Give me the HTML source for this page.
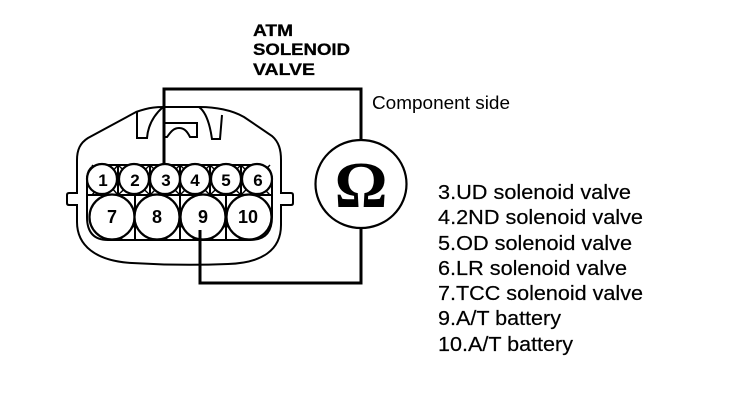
<!DOCTYPE html>
<html><head><meta charset="utf-8"><style>
html,body{margin:0;padding:0;background:#fff;width:736px;height:402px;overflow:hidden}
svg{display:block}
text{font-family:"Liberation Sans",sans-serif;fill:#000}
</style></head><body>
<svg width="736" height="402" viewBox="0 0 736 402" xmlns="http://www.w3.org/2000/svg">
<g fill="none" stroke="#000" stroke-width="2">
<!-- connector body -->
<path d="M136 112 C150 107 158 107 164 107 L200 107 C215 107 232 110 244 117 L272 136 C279 142 281 150 281 160 L281 193 L291 193 Q293 193 293 195 L293 203 Q293 205 291 205 L281 205 L281 225 C281 250 262 263 228 264 Q180 266 132 263 C95 261 77 245 77 222 L77 205 L69 205 Q67 205 67 203 L67 195 Q67 193 69 193 L77 193 L77 160 C77 150 80 143 88 138 L136 112 Z"/>
<!-- latches -->
<path d="M137 112 L137 138 L147 138 C148 125 154 115 163 107"/>
<path d="M199 107 C206 112 210 125 212 139 L220 139 L222 115"/>
<path d="M165 123 L197 123 L197 137 L190 137 C187 131 184 128 179 128 C173 128 170 133 167 137 L165 137"/>
<!-- cavity block -->
<path d="M100 165 L258 165 Q272 165 272 180 L272 217 Q272 240 250 240 L108 240 Q87 240 87 217 L87 180 Q87 165 100 165 Z"/>
<path d="M87 195 L272 195"/>
<path d="M135 195 L135 240 M180 195 L180 240 M226 195 L226 240 M118 165 L118 195 M150 165 L150 195 M180 165 L180 195 M210 165 L210 195 M241 165 L241 195"/>
<path d="M92 165 L118 195 M118 165 L92 195 M118 165 L150 195 M150 165 L118 195 M150 165 L180 195 M180 165 L150 195 M180 165 L210 195 M210 165 L180 195 M210 165 L241 195 M241 165 L210 195 M241 165 L270 195 M270 165 L241 195" stroke-width="1.4"/>
<path d="M120 240 L135 225 L150 240 M165 240 L180 225 L195 240 M211 240 L226 225 L241 240" stroke-width="1.4"/>
<g fill="#fff" stroke-width="2.2">
<circle cx="102" cy="179" r="15"/><circle cx="134" cy="179" r="15"/><circle cx="165" cy="179" r="15"/><circle cx="195" cy="179" r="15"/><circle cx="226" cy="179" r="15"/><circle cx="257" cy="179" r="15"/>
<circle cx="112" cy="217" r="22.5"/><circle cx="157" cy="217" r="22.5"/><circle cx="203" cy="217" r="22.5"/><circle cx="249" cy="217" r="22.5"/>
</g>
<!-- wires -->
<path d="M164 165 L164 89 L361 89 L361 140" stroke-width="3"/>
<path d="M361 228 L361 283 L200 283 L200 230" stroke-width="3"/>
<ellipse cx="361" cy="184" rx="45.5" ry="44" stroke-width="2.2" fill="#fff"/>
</g>
<g font-size="17" font-weight="bold" text-anchor="middle">
<text x="103" y="186">1</text><text x="135" y="186">2</text><text x="166" y="186">3</text><text x="195" y="186">4</text><text x="226" y="186">5</text><text x="258" y="186">6</text>
</g>
<g font-size="18" font-weight="bold" text-anchor="middle">
<text x="112" y="223">7</text><text x="157" y="223">8</text><text x="203" y="223">9</text><text x="248" y="223">10</text>
</g>
<text x="361" y="207" font-size="66" font-weight="bold" text-anchor="middle" style="font-family:'Liberation Serif',serif">Ω</text>
<g font-size="17" font-weight="bold" stroke="#000" stroke-width=".3">
<text x="253" y="36" textLength="40" lengthAdjust="spacingAndGlyphs">ATM</text>
<text x="253" y="55" textLength="97" lengthAdjust="spacingAndGlyphs">SOLENOID</text>
<text x="253" y="75" textLength="62" lengthAdjust="spacingAndGlyphs">VALVE</text>
</g>
<text x="372" y="109" font-size="18" textLength="138" lengthAdjust="spacingAndGlyphs">Component side</text>
<g font-size="20" stroke="#000" stroke-width=".2">
<text x="438" y="199" textLength="193" lengthAdjust="spacingAndGlyphs">3.UD solenoid valve</text>
<text x="438" y="224" textLength="205" lengthAdjust="spacingAndGlyphs">4.2ND solenoid valve</text>
<text x="438" y="250" textLength="194" lengthAdjust="spacingAndGlyphs">5.OD solenoid valve</text>
<text x="438" y="275" textLength="189" lengthAdjust="spacingAndGlyphs">6.LR solenoid valve</text>
<text x="438" y="300" textLength="205" lengthAdjust="spacingAndGlyphs">7.TCC solenoid valve</text>
<text x="438" y="325" textLength="123" lengthAdjust="spacingAndGlyphs">9.A/T battery</text>
<text x="438" y="351" textLength="135" lengthAdjust="spacingAndGlyphs">10.A/T battery</text>
</g>
</svg>
</body></html>
